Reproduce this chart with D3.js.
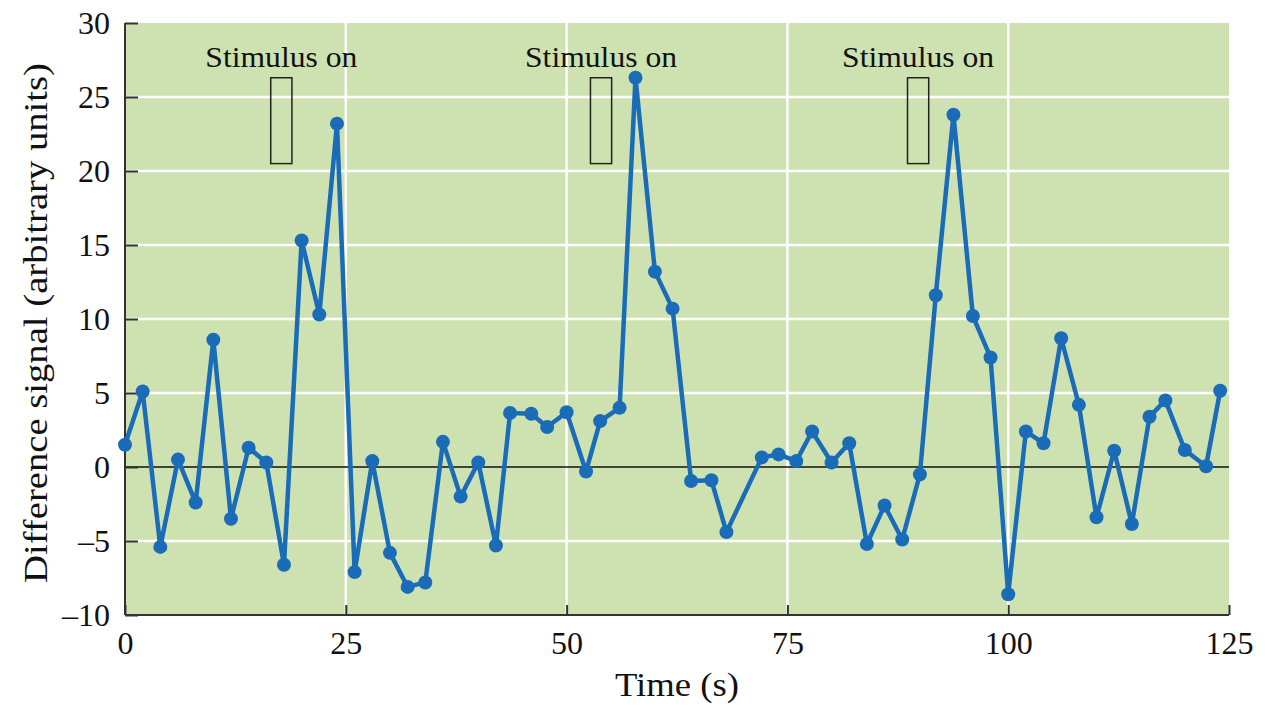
<!DOCTYPE html>
<html>
<head>
<meta charset="utf-8">
<script src="https://cdn.jsdelivr.net/npm/d3@7"></script>
<style>
    body { margin: 0; background: #fff; }
    text { font-family: "Liberation Serif", "DejaVu Serif", serif; fill: #111; }
</style>
</head>
<body>
<div id="chart"></div>
<script>
// Datos (tiempo en s, señal en unidades arbitrarias)
const times = [0, 2, 4, 6, 8, 10, 12, 14, 16, 18, 20, 22, 24, 26, 28, 30, 32, 34, 36, 38,
    40, 42, 43.6, 46, 47.8, 50, 52.2, 53.8, 56, 57.8, 60, 62, 64.1, 66.4, 68.1, 72.1, 74, 76,
    77.8, 80, 82, 84, 86, 88, 90, 91.8, 93.8, 96, 98, 100, 102, 104, 106, 108, 110, 112,
    114, 116, 117.8, 120, 122.4, 124]
const signal = [1.5, 5.1, -5.4, 0.5, -2.4, 8.6, -3.5, 1.3, 0.3, -6.6, 15.3, 10.3, 23.2, -7.1, 0.4, -5.8, -8.1, -7.8, 1.7, -2.0,
    0.3, -5.3, 3.65, 3.6, 2.7, 3.7, -0.3, 3.1, 4.0, 26.3, 13.2, 10.7, -0.95, -0.9, -4.4, 0.65, 0.85, 0.4,
    2.4, 0.3, 1.6, -5.2, -2.6, -4.9, -0.5, 11.6, 23.8, 10.2, 7.4, -8.6, 2.4, 1.6, 8.7, 4.2, -3.4, 1.1,
    -3.85, 3.4, 4.5, 1.15, 0.05, 5.15]

// Estímulos: inicio y fin (s)
const stimStart = [16.5, 52.7, 88.6]
const stimEnd = [18.9, 55.1, 91.0]
const stimLabel = "Stimulus on"

const xTicks = [0, 25, 50, 75, 100, 125]
const yTicks = [30, 25, 20, 15, 10, 5, 0, -5, -10]

// ----------------------------------------------------------

const width = 1265
const height = 708
const margin = { top: 23, bottom: 93, left: 125, right: 36 }
const innerW = width - margin.left - margin.right
const innerH = height - margin.top - margin.bottom

const svg = d3.select("div#chart").append("svg")
    .attr("width", width)
    .attr("height", height)

const g = svg.append("g")
    .attr("transform", `translate(${margin.left} ${margin.top})`)

const scaleX = d3.scaleLinear().domain([0, 125]).range([0, innerW])
const scaleY = d3.scaleLinear().domain([-10, 30]).range([innerH, 0])

// Fondo verde
g.append("rect")
    .attr("width", innerW)
    .attr("height", innerH)
    .attr("fill", "#cde2b0")

// Rejilla blanca
g.selectAll("line.hgrid").data(yTicks.filter(d => d > -10 && d < 30 && d !== 0))
    .enter().append("line")
    .attr("class", "hgrid")
    .attr("x1", 0).attr("x2", innerW)
    .attr("y1", d => scaleY(d)).attr("y2", d => scaleY(d))
    .attr("stroke", "#fff").attr("stroke-width", 2.5)

g.selectAll("line.vgrid").data(xTicks.filter(d => d > 0 && d < 125))
    .enter().append("line")
    .attr("class", "vgrid")
    .attr("x1", d => scaleX(d)).attr("x2", d => scaleX(d))
    .attr("y1", 0).attr("y2", innerH)
    .attr("stroke", "#fff").attr("stroke-width", 2.5)

// Línea del cero
g.append("line")
    .attr("x1", 0).attr("x2", innerW)
    .attr("y1", scaleY(0)).attr("y2", scaleY(0))
    .attr("stroke", "#111").attr("stroke-width", 1.5)

// Ejes con ticks hacia dentro
const xAxis = d3.axisBottom(scaleX).tickValues(xTicks).tickSize(-10).tickPadding(16)
    .tickFormat(d3.format("d"))
const yAxis = d3.axisLeft(scaleY).tickValues(yTicks).tickSize(-13).tickPadding(15)
    .tickFormat(d => d < 0 ? "\u2013" + Math.abs(d) : d)

const xAxisGroup = g.append("g")
    .attr("transform", `translate(0 ${innerH})`)
    .call(xAxis)
const yAxisGroup = g.append("g").call(yAxis)

;[xAxisGroup, yAxisGroup].forEach(a => {
    a.select(".domain").attr("stroke", "#333").attr("stroke-width", 2)
    a.selectAll(".tick line").attr("stroke", "#333").attr("stroke-width", 2)
    a.selectAll(".tick text")
        .attr("font-family", "'Liberation Serif', serif")
        .attr("font-size", 32)
        .attr("fill", "#111")
})
yAxisGroup.selectAll(".tick text").attr("dy", "0.34em")
yAxisGroup.select(".domain").attr("d", `M0,${innerH}V0`)
xAxisGroup.select(".domain").attr("d", `M0,0H${innerW}`)

// Cajas de estímulo y rótulos
const stims = stimStart.map((s, i) => ({ start: s, end: stimEnd[i] }))
g.selectAll("rect.stim").data(stims)
    .enter().append("rect")
    .attr("class", "stim")
    .attr("x", d => scaleX(d.start))
    .attr("width", d => scaleX(d.end) - scaleX(d.start))
    .attr("y", scaleY(26.3))
    .attr("height", scaleY(20.5) - scaleY(26.3))
    .attr("fill", "none")
    .attr("stroke", "#222")
    .attr("stroke-width", 1.5)

g.selectAll("text.stim").data(stims)
    .enter().append("text")
    .attr("class", "stim")
    .attr("x", d => scaleX((d.start + d.end) / 2))
    .attr("y", 44)
    .attr("text-anchor", "middle")
    .attr("font-size", 30)
    .attr("textLength", 152)
    .attr("lengthAdjust", "spacingAndGlyphs")
    .text(stimLabel)

// Serie: línea y puntos
const data = times.map((t, i) => ({ t: t, v: signal[i] }))
const line = d3.line().x(d => scaleX(d.t)).y(d => scaleY(d.v))

g.append("path").datum(data)
    .attr("d", line)
    .attr("fill", "none")
    .attr("stroke", "#1a6cb8")
    .attr("stroke-width", 4.5)
    .attr("stroke-linejoin", "round")

g.selectAll("circle").data(data)
    .enter().append("circle")
    .attr("cx", d => scaleX(d.t))
    .attr("cy", d => scaleY(d.v))
    .attr("r", 7)
    .attr("fill", "#1a6cb8")

// Etiquetas de los ejes
svg.append("text")
    .attr("x", 677)
    .attr("y", 696)
    .attr("text-anchor", "middle")
    .attr("font-size", 34)
    .attr("textLength", 124)
    .attr("lengthAdjust", "spacingAndGlyphs")
    .text("Time (s)")

svg.append("text")
    .attr("transform", `translate(47 ${323}) rotate(-90)`)
    .attr("text-anchor", "middle")
    .attr("font-size", 33)
    .attr("textLength", 520)
    .attr("lengthAdjust", "spacingAndGlyphs")
    .text("Difference signal (arbitrary units)")
</script>
</body>
</html>
